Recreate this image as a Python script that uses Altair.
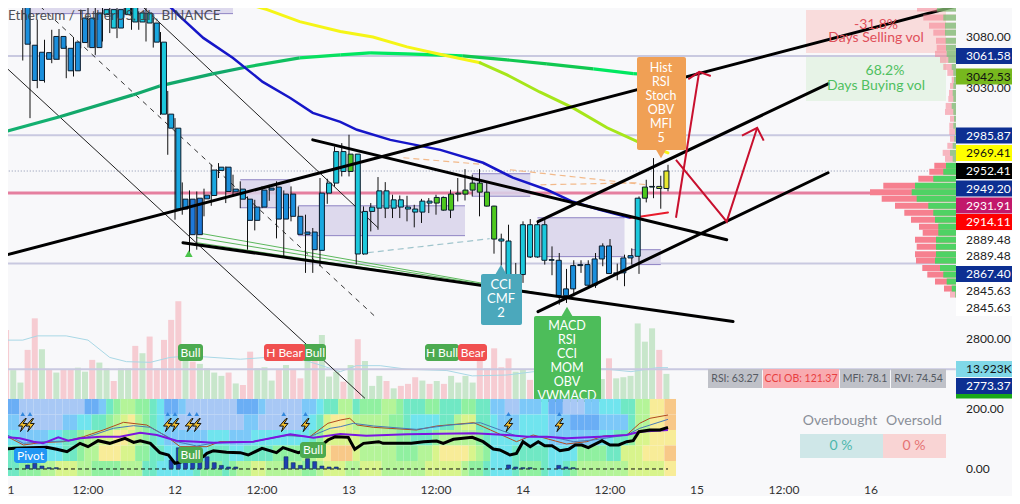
import altair as alt
import pandas as pd

FONT = "Lato"
BG = "#f8f8fa"
W, H = 1004, 488

# ---- candles: one entry per hour, h = 0 is the 11th 00:00
highs = [3125,3125,3130,3130,3075.6,3096.9,3077.3,3087,3087.7,3071.4,3079.9,3106.7,3113.2,3125,3125,3125,3125,3130,3130,3105,3125,3098.5,3084.8,3028,3002.1,2941.8,2934.4,2933.4,2936,2958.3,2959.8,2956.7,2949,2942.8,2928.8,2925.7,2938.1,2939.6,2942.8,2934.4,2938.1,2919.6,2912,2899.8,2945.9,2945.2,2975.3,
 2978.5,2986.4,2968.2,2919.6,2922.7,2946.8,2942.1,2930.4,2929.7,2929.4,2921.1,2926.6,2927.3,2930.4,2928.8,2935,2945.9,2954.2,2949,2954.2,2941.2,2920.2,2894.6,2902.8,2868,2905.9,2908,2905.9,2908,2883,2877,2862.6,2870.4,2870.4,2870.4,2877,2885.8,2889.7,2867.4,2875.5,2881.2,2928.8,2944.3,2964.5,2948,2958.2]
lows = [3085.4,3108.3,3115,3057.2,3002.1,3030.6,3036,3054.6,3057.8,3040.2,3041.8,3069,3069.7,3062.6,3075.6,3083.8,3078.9,3101.8,3087,3087,3075.6,3069.7,3005.2,2967.6,2907.4,2912,2877,2880,2910.5,2920.2,2945.9,2922.7,2928.8,2918,2880,2897.6,2918,2924.8,2890.3,2874,2905.9,2893.4,2859,2859,2865,2922,2938,
 2947.4,2947.4,2866.5,2875.5,2896.7,2898.2,2908.9,2908.9,2908.9,2905.9,2900.4,2904.4,2913.5,2912,2915.6,2908.9,2924.2,2925.1,2928.8,2910.5,2919.6,2876.4,2865.6,2850,2839.5,2850,2872.5,2872.8,2866.5,2856.9,2830.5,2832,2838,2859,2847,2845.5,2865,2858.1,2852.4,2847,2866.5,2858.1,2923.3,2927.2,2917.5,2933.5]
body_top = [3130,3115.5,3125,3125,3072,3065.2,3064.8,3080.5,3080.5,3069,3075,3098.5,3098.5,3103.4,3106.7,3106.7,3106.7,3125,3125,3103.4,3103.4,3093.6,3075,3005.9,2992.6,2926.3,2926.3,2927.2,2930,2953.3,2956,2956,2935.6,2935.6,2926.3,2919,2934.7,2936.5,2937.5,2931,2931,2910.5,2896.1,2896.1,2931.9,2941.2,2970.6,
 2970.6,2968.2,2968.2,2915,2919,2934,2934,2925.7,2925.7,2919,2917.2,2924.5,2924.5,2927.9,2927.9,2931,2931.9,2934.7,2941.2,2941.2,2932.8,2919.9,2889.7,2887.9,2857.5,2902.8,2902.8,2902.8,2902.8,2871,2870.4,2844.6,2865.6,2866.5,2866.5,2871.6,2883.4,2883.4,2859,2872.5,2874.6,2927.2,2937.5,2938.1,2938.1,2952.41]
body_bot = [3120,3112.2,3116,3073,3038,3038,3058.4,3058.4,3069,3047.3,3047.3,3074.6,3069.7,3069.7,3101.8,3088.7,3088.7,3101.8,3094.6,3094.6,3093.6,3075,3005.9,2992.6,2917.2,2917.2,2893.7,2893.7,2926.6,2929.7,2953,2933.4,2933.1,2926.3,2906.8,2906.8,2919,2934.7,2908,2908,2910.5,2894,2894,2880,2879.4,2931.9,2941.2,
 2952,2952,2876.1,2876.1,2915,2918,2918,2918,2919,2917.2,2914.4,2914.4,2922.7,2922.7,2916.2,2916.2,2931,2931,2934.7,2932.8,2919.9,2889.7,2887.9,2852.4,2850.6,2857.5,2873.4,2873.4,2870.4,2870.4,2838.6,2838.6,2844.6,2865.6,2847.9,2847.9,2871.6,2858.4,2858.4,2859,2872.5,2874,2927.2,2937.5,2936.2,2936.2]
candle_kind = "bcb" + "b"*11 + "ccmcccc" + "mcmmbddbmm" + "bbm" + "b"*10 + "mcc" + "cgccc" + "c"*8 + "ggg" + "g" + "ggggg" + "ccm" + "cccc" + "c" + "b"*11 + "cggly"
candle_palette = {"b": "#1b8fdc", "c": "#1cc8dc", "m": "#1aa8e0", "d": "#1e78d8", "g": "#4ec81e", "l": "#b8e030", "y": "#e8e830"}

# ---- volume (thousands) and its average
volumes = [31.1,13,7.4,22.1,36.3,22.4,13.4,11.9,13.4,13.4,14.1,12.3,17.6,16.4,13.8,8.1,13.8,13.8,23.9,20.6,28.1,13.8,26.6,35.6,44,18.3,16.8,15.8,13.8,11.9,10.4,11.9,7,6.3,21.3,13.8,14.3,8.3,13.4,15.3,13.1,9.3,17.1,18.3,28.8,10.1,12.3,
 7.8,15.3,26.9,17.1,5.9,10.4,8.1,4.8,5.9,6.8,9.8,8.3,6.8,8.1,6.8,10.4,7.4,10.4,7.4,17.6,13.8,22.8,14.3,18.3,12.3,13.1,8.6,9,9,9,9,9,9,9,9,9,9,18.3,9.3,9.8,10.4,34,25.8,31.8,22.1,11.3]
volume_side = "pggppgpgpp" "ggpggpggpg" "pppppgpggg" "gpgppgggpg" "ppgpggg" "pgpgggpgpp" "pgpgpggggp" "ppppggpgpg" "pgggpggpgg" "ggggpg"
vol_ma_h = [0,3,5,9,12,15,17.3,20.6,23.3,26,33,36.6,41,44,46.8,49,52.3,56,61.5,65,69.8,73.5,79,83.6,86.9,90.5,92]
vol_ma_v = [26.5,26.5,28.4,28.4,26.5,18.7,16.8,16.5,18.7,19.4,17.9,18.7,18.3,15.3,12.3,15,15,13.4,12.8,10.4,10.8,12.3,13.8,13.4,12.3,14.1,14.1]

# ---- moving averages
blue_h = [22.3,24.7,27.9,32,36.1,39.9,43,46.8,49.1,53.7,60.6,66.5,70.6,75.3,78.9,82.6,86.8]
blue_p = [3116.5,3099.9,3079.1,3059.7,3036.6,3021.3,3007.1,2998.6,2991.1,2981.6,2972.2,2960.1,2946.2,2935,2923.9,2916.6,2909.2]
red_h = [86.8,88.1,92]
red_p = [2909.2,2910.1,2914.11]
yellow_h = [32,36.7,41.2,46.8,51.3,56,61,66.1]
yellow_p = [3116.5,3106.7,3095,3085.4,3080,3070.4,3062.6,3055]
lime_h = [66.1,69.8,74.3,78.9,83.6,88.1,90.2]
lime_p = [3055,3043.4,3027,3011.8,2993,2979,2974]
yellow_end_h = [90.2,92]
yellow_end_p = [2974,2969.41]
slow_h = [0,8.1,18.2,21.9,29.2,33.9,41.2,46.8,50.9,56,63.7,69.8,75.3,81.7,87.2,92]
slow_p = [2988.2,3003.4,3024.2,3032.8,3044.3,3051,3059.7,3062.6,3064.5,3063.6,3061.6,3057.8,3054,3049.2,3044.5,3042.53]
slow_c = ["#13b070","#12a86a","#12a86a","#12a86a","#12a86a","#10c060","#08e060","#00e860","#00e860","#00e860","#10c850","#10c850","#10c850","#00e860","#00e860","#00e860"]

# ---- drawn lines: (h1, p1, h2, p2)
thick_lines = [(-0.14,2873.7,131.7,3110.1),(25.1,2886.4,100.97,2815.5),(43,2981.6,100.1,2889.1),(74.07,2824.3,114.07,2950.8),(74.07,2905.6,114.07,3034.8)]
thin_lines = [(-0.14,3055.9,50.2,2748),(18.5,3116.5,52,2900.1)]
dash_lines = [(4.4,3116.5,51.6,2819.9)]
green_lines = [(27,2895.5,76.8,2837.7),(27,2891,76.8,2837.7),(27,2886.4,76.8,2837.7)]
teal_dash = [(50.6,2877.3,67.4,2890)]
orange_dash = [(55.5,2964.8,67,2958.3),(70.2,2953.6,89,2939.6),(74.4,2939.6,88.1,2941.5)]
arrow_segments = [[(93.1,2909.2),(96.3,3046.3)],[(94.8,3039.2),(96.3,3046.3),(97.9,3042.3)],[(93.1,2962.9),(100.1,2905.6),(104.3,2993)],[(102.2,2985.6),(104.3,2993),(105.2,2980.9)]]

# ---- price levels
lavender_levels = [3061.58,2985.87,2867.40,2773.37]
pink_level = 2931.91
dotted_level = 2952.41
zones = [(3,32,3130,3102.8),(33,39.9,2944.3,2918.4),(41,64,2920.2,2892.8),(65,73,2949.9,2929),(74,86,2909.2,2873.7),(87,91,2880,2866.5)]

# ---- volume profile: price, selling+buying width, buying width
pf_price = [3114.5,3107.7,3098.9,3091,3084.2,3076.3,3069.5,3063.6,3057.8,3051,3045.3,3038.6,3032.8,3026.1,3020.4,3013.7,3008,3001.5,2994.9,2989.2,2982.6,2976,2969.4,2963.8,2957.3,2951.7,2945.2,2938.7,2932.7,2926.6,2920.2,2913.8,2907.4,2901,2895.5,2889.1,2882.7,2875.8,2870.1,2863.4,2857.5,2851.2,2844.9,2839.5]
pf_total = [27.7,39,32.7,27,22.7,20,19.3,21,16,12.7,8.7,4.3,6,7,7.7,10.3,11,6,6.7,6.7,6,8.7,13.3,11,21.7,26.7,37.7,72.7,86,74.3,61,51.7,45,37,33.3,41,39.3,41,40,33.7,28.7,21,12,6]
pf_buy = [11,19,12.7,11,11,10.3,10,9.3,7.7,4.3,2.7,2,2.7,3.3,2.7,4.3,2.7,2,2.7,1,1.7,3.3,6,3.3,10,12.7,22.7,41,44.3,39.3,27.7,22.7,21,17.7,17.7,20,20,20,21,16,12.7,9.3,4.3,1]

# ---- oscillator pane
black_h = [0,1.9,6.3,7.7,9.1,10.9,12,13.4,15,17.1,18.3,19.2,20.6,21.9,23.1,24,26,27.9,28.4,29.3,31.1,33,34.1,36,38,38.9,41,42.2,44,45.1,46.1,47.9,48.8,50,52.1,52.7,56.6,58.3,60.1,61,62.4,65,66.5,67.9,68.8,70.2,71.1,72,73,74.1,75,76,77.1,78.3,79.2,80.1,81,82.9,84,85.2,86.3,87.2,88,89.5,90.9,92]
black_v = [64.8,68.1,71.5,64.8,57,84.9,73.7,93.8,84.9,101.6,88.2,93.8,84.9,53.6,45.8,17.9,29,40.2,51.4,60.3,54.7,53.6,45.8,68.1,53.6,70.4,53.6,62.5,73.7,96.1,107.2,105,64.8,84.9,90.5,84.9,84.9,90.5,92.7,84.9,98.3,105,90.5,65.9,62.5,45.8,51.4,90.5,73.7,90.5,77.1,77.1,60.3,64.8,79.3,79.3,70.4,93.8,79.3,79.3,90.5,93.8,124,129.6,129.6,138.5]
purple_h = [0,2.6,4.5,5.8,7.9,9.3,10.9,13.7,16.4,19.2,21.5,24.2,27,29.3,34.8,39.9,43.1,46.8,50.4,56,65.2,69.8,72.5,75.3,78,82.6,86.3,88.1,92]
purple_v = [107.2,101.6,90.5,84.9,105,93.8,101.6,107.2,107.2,120.6,112.8,93.8,90.5,87,90.5,115,103.9,116.2,110.6,115,118.4,112.8,107.2,107.2,101.6,107.2,112.8,124,129.6]
brown_h = [0,3.1,5.4,8.6,11.4,14.1,16.9,20.1,22.9,24.7,28.4,30.2,34.8,39.4,42.6,45.1,46.8,48.1,49.1,51.4,57.3,60.1,65.2,66.5,71.1,73.4,78,80.8,83.1,86.3,88.1,89.5,92]
brown_v = [118.4,79.3,87.1,90.5,107.2,129.6,155.3,146.3,107.2,73.7,73.7,90.5,90.5,112.8,107.2,152,163,168.7,146.3,138.5,129.6,143,154.1,140.7,90.5,112.8,82.7,90.5,109.5,112.8,152,168.7,179.8]
steel_h = [0,3.1,5.8,9.1,11.8,15.5,18.3,20.6,24.2,27,29.7,34.8,39.4,42.6,45.4,46.8,48.6,51.4,57.3,62,66.1,71.1,76.2,79,81.7,86.3,88.1,92]
steel_v = [124,84.9,90.5,92.7,105,135.2,144.1,138.5,90.5,76,87.1,90.5,110.6,107.2,135.2,140.7,151.9,143,131.8,146.3,154.1,109.5,105,90.5,96.1,112.8,135.2,165.3]
momentum_h = [3,4,5,6,7,23,24,25,26,27,28,29,30,31,32,39,40,41,42,43,44,45,46,70,71,72,73,77,78,79]
momentum_v = [12.3,17.9,8.9,3.4,3.4,29,70,53.6,31.3,31.3,40,20,11,5.6,5.6,40,20,11,33.5,23.5,8.9,5.6,5.6,12.3,5.6,3.4,3.4,11,5.6,3.4]
bolt_h = [3,4,23,24,26,27,39,42,70,77]
bolt_level = 146
arrow_level = 183
BOLT = "M0.35,-1 L-0.65,0.15 L-0.05,0.15 L-0.35,1 L0.65,-0.25 L0.05,-0.25 L0.55,-1 Z"

# ---- heat cells: one string per row, one letter per hour
heat_rows = [
 "caabbbbbbbbbaacefggffedaacbbbbbb" "baaacbbbbbccdeeggefffggfeeeffee" "effeeccbbcccdaabbbccdddeeggiij",
 "dccbbbbbbccddeefghigfedccbbbbbbb" "bbccbbbbbbcdehiihgggggffeddddee" "ghheedcccddddcccaaaaccccegg" "iij",
 "dddccccddeefgghhiihgfedccccccddd" "cccddddddddefhhhhhgggggffeeefgg" "gggfeddddddddcccccccddeefhhiii",
 "eeeedddddeefggiiihhffeeddddddeee" "ddeeeeffffgghijjjhgggggfffgghii" "iihgfdddeeeeeddddffffeehhhiiij",
 "deefffgghhhggffffgggeedddddefffe" "fgghhgggggffghhhgghhhgggggghhhh" "hgffedddefffeddefggggggghhhhhi",
]
heat_edges = [233.5,181.6,129.6,77.7,25.8,-24.5]
heat_palette = {"a":"#6aaef5","b":"#a8c8f5","c":"#7cc8f8","d":"#70e4ee","e":"#70e8c4","f":"#90f0a0","g":"#b4f498","h":"#d8f48c","i":"#f8ec98","j":"#f8c888"}

# ---- text
time_labels = [(11,"1"),(88,"12:00"),(175,"12"),(262,"12:00"),(349,"13"),(436,"12:00"),(523,"14"),(610,"12:00"),(697,"15"),(784,"12:00"),(871,"16")]
axis_plain = [("3080.00",36.7),("3030.00",88.3),("2889.48",239.5),("2889.48",256.3),("2845.63",290.7),("2845.63",307.7),("2800.00",339.3),("200.00",409.3),("0.00",468.7)]
axis_tags = [("3061.58",56,"#0d2f92","#ffffff"),("3042.53",76.5,"#77b81e","#111111"),("2985.87",135.5,"#0d2f92","#ffffff"),("2969.41",153,"#ffff00","#111111"),("2952.41",171,"#000000","#ffffff"),("2949.20",188.5,"#0d2f92","#ffffff"),("2931.91",205.5,"#c2186b","#ffffff"),("2914.11",222,"#ff0000","#ffffff"),("2867.40",274,"#0d2f92","#ffffff"),("13.923K",369,"#80d8e8","#111111"),("2773.37",386,"#0d2f92","#ffffff")]

xs = alt.Scale(domain=[7/7.25, 1011/7.25], nice=False, zero=False)
ys = alt.Scale(type="log", domain=[2664.6, 3108.3], nice=False, zero=False)
os_ = alt.Scale(domain=[-91.5, 1543], nice=False, zero=False)
vs = alt.Scale(domain=[-43.65, 175.95], nice=False, zero=False)
pf = alt.Scale(domain=[948, -56], nice=False, zero=False)
sx = alt.Scale(domain=[8, 1012], nice=False, zero=False)
sy = alt.Scale(domain=[496, 8], nice=False, zero=False)
c_id = alt.Color("c:N", scale=None)

def X(f="h"): return alt.X(f"{f}:Q", scale=xs, axis=None)
def P(f="p"): return alt.Y(f"{f}:Q", scale=ys, axis=None)
def O(f="v"): return alt.Y(f"{f}:Q", scale=os_, axis=None, stack=None)
def V(f="v"): return alt.Y(f"{f}:Q", scale=vs, axis=None, stack=None)
def SX(f="x"): return alt.X(f"{f}:Q", scale=sx, axis=None)
def SY(f="y"): return alt.Y(f"{f}:Q", scale=sy, axis=None)

layers = []

def price_line(h, p, color, width, **kw):
    d = pd.DataFrame({"h": h, "p": p})
    layers.append(alt.Chart(d).mark_line(color=color, strokeWidth=width, strokeCap="round", clip=True, **kw).encode(x=X(), y=P()))

def seg_rules(segs, color, width, **kw):
    d = pd.DataFrame(segs, columns=["h", "p", "h2", "p2"])
    layers.append(alt.Chart(d).mark_rule(color=color, strokeWidth=width, clip=True, **kw).encode(x=X(), x2="h2:Q", y=P(), y2="p2:Q"))

def osc_line(h, v, color, width, **kw):
    d = pd.DataFrame({"h": h, "v": v})
    layers.append(alt.Chart(d).mark_line(color=color, strokeWidth=width, clip=True, **kw).encode(x=X(), y=O()))

def boxes(rows, **kw):
    d = pd.DataFrame(rows, columns=["x", "x2", "y", "y2", "c"])
    layers.append(alt.Chart(d).mark_rect(clip=True, **kw).encode(x=SX(), x2="x2:Q", y=SY(), y2="y2:Q", color=c_id))

def texts(rows, align="center", **kw):
    d = pd.DataFrame(rows, columns=["x", "y", "t", "c", "s"])
    layers.append(alt.Chart(d).mark_text(align=align, baseline="middle", font=FONT, **kw).encode(
        x=SX(), y=SY(), text="t:N", color=c_id, size=alt.Size("s:Q", scale=None)))

def pointer(x, y, color, shape, size):
    d = pd.DataFrame({"x": [x], "y": [y]})
    layers.append(alt.Chart(d).mark_point(shape=shape, filled=True, color=color, size=size, opacity=1).encode(x=SX(), y=SY()))

# volume
hours = list(range(93))
vdf = pd.DataFrame({"h": hours, "v": volumes, "z": [0]*93, "c": ["#f6ccd2" if s == "p" else "#c8e6cb" for s in volume_side]})
layers.append(alt.Chart(vdf).mark_bar(size=6, clip=True).encode(x=X(), y=V(), y2="z:Q", color=c_id))
layers.append(alt.Chart(pd.DataFrame({"h": vol_ma_h, "v": vol_ma_v})).mark_line(color="#a9d8e6", strokeWidth=1, clip=True).encode(x=X(), y=V()))

# levels
lev = pd.DataFrame({"p": lavender_levels, "h": [-1]*4, "h2": [131.7]*4})
layers.append(alt.Chart(lev).mark_rule(color="#c9c9e0", strokeWidth=2, clip=True).encode(x=X(), x2="h2:Q", y=P()))
layers.append(alt.Chart(pd.DataFrame({"p": [dotted_level], "h": [-1], "h2": [131.7]})).mark_rule(color="#8a94b0", strokeWidth=1, strokeDash=[1, 2], clip=True).encode(x=X(), x2="h2:Q", y=P()))
layers.append(alt.Chart(pd.DataFrame({"p": [pink_level], "h": [-1], "h2": [131.7]})).mark_rule(color="#e57f9f", strokeWidth=3, clip=True).encode(x=X(), x2="h2:Q", y=P()))

# zones
zdf = pd.DataFrame(zones, columns=["h", "h2", "p", "p2"])
layers.append(alt.Chart(zdf).mark_rect(color="#d8d3ea", opacity=0.85, clip=True).encode(x=X(), x2="h2:Q", y=P(), y2="p2:Q"))
for col in ["p", "p2"]:
    layers.append(alt.Chart(zdf).mark_rule(color="#8f84c4", strokeWidth=1, clip=True).encode(x=X(), x2="h2:Q", y=P(col)))

# thin lines
seg_rules(thin_lines, "#222222", 1)
seg_rules(dash_lines, "#333333", 1, strokeDash=[5, 5])
seg_rules(green_lines, "#5cb85c", 1)
seg_rules(teal_dash, "#9fc4cc", 1.2, strokeDash=[6, 4])
seg_rules(orange_dash, "#f2b98a", 1.2, strokeDash=[6, 4])

# days boxes
boxes([(806, 946, 10, 53, "#f9dcdc"), (806, 946, 57, 101, "#e7f3e7")])

# moving averages
slow = pd.DataFrame({"h": slow_h, "p": slow_p, "c": slow_c})
for i in range(len(slow) - 1):
    layers.append(alt.Chart(slow.iloc[i:i+2]).mark_line(color=slow_c[i], strokeWidth=3.2, clip=True).encode(x=X(), y=P()))
price_line(yellow_h, yellow_p, "#f5f516", 3)
price_line(lime_h, lime_p, "#a6e61a", 3)
price_line(yellow_end_h, yellow_end_p, "#f5f516", 3)
price_line(blue_h, blue_p, "#1616c8", 2.5)
price_line(red_h, red_p, "#e81c2c", 2)

# candles
kinds = [candle_palette[k] for k in candle_kind]
cdf = pd.DataFrame({"h": hours, "hi": highs, "lo": lows, "t": body_top, "b": body_bot, "c": kinds})
layers.append(alt.Chart(cdf).mark_rule(color="#111111", strokeWidth=1, clip=True).encode(x=X(), y=P("hi"), y2="lo:Q"))
layers.append(alt.Chart(cdf).mark_bar(size=5, stroke="#0b1b2b", strokeWidth=1, clip=True).encode(x=X(), y=P("t"), y2="b:Q", color=c_id))

# heavy lines and arrows
seg_rules(thick_lines, "#000000", 3, strokeCap="round")
arrow_rows = [(i, hh, pp) for i, seg in enumerate(arrow_segments) for hh, pp in seg]
adf = pd.DataFrame(arrow_rows, columns=["g", "h", "p"])
layers.append(alt.Chart(adf).mark_line(color="#c8102e", strokeWidth=2, clip=True).encode(x=X(), y=P(), detail="g:N"))

# title, days text
texts([(8, 16, "Ethereum / TetherUS, 1h, BINANCE", "#3c4048", 13.5)], align="left", opacity=0.9)
texts([(876, 25, "-31.8%", "#e0505a", 14), (876, 38, "Days Selling vol", "#e0505a", 14),
       (885, 71, "68.2%", "#4fc060", 14), (876, 86, "Days Buying vol", "#4fc060", 14)])

# small marks in the price pane
layers.append(alt.Chart(pd.DataFrame({"h": [25.9], "p": [2876.4]})).mark_point(shape="triangle-up", filled=True, color="#4cc44c", size=60, opacity=1).encode(x=X(), y=P()))

# signal badges
boxes([(481, 522, 274, 325, "#4ba8bc")], cornerRadius=2)
pointer(501, 270, "#4ba8bc", "triangle-up", 150)
boxes([(534, 601, 316, 402, "#4dbd5a")], cornerRadius=2)
pointer(567, 312, "#4dbd5a", "triangle-up", 150)
boxes([(637, 686, 57, 150, "#f0a055")], cornerRadius=2)
pointer(661, 153, "#f0a055", "triangle-down", 150)
texts([(501, 285, "CCI", "#ffffff", 13), (501, 299, "CMF", "#ffffff", 13), (501, 313, "2", "#ffffff", 13),
       (567, 326, "MACD", "#ffffff", 12.5), (567, 340, "RSI", "#ffffff", 12.5), (567, 354, "CCI", "#ffffff", 12.5), (567, 368, "MOM", "#ffffff", 12.5), (567, 382, "OBV", "#ffffff", 12.5), (567, 396, "VWMACD", "#ffffff", 12.5),
       (661, 68, "Hist", "#ffffff", 12.5), (661, 82, "RSI", "#ffffff", 12.5), (661, 96, "Stoch", "#ffffff", 12.5), (661, 110, "OBV", "#ffffff", 12.5), (661, 124, "MFI", "#ffffff", 12.5), (661, 138, "5", "#ffffff", 12.5)])
boxes([(178, 203, 344, 361, "#4caa50"), (302, 326, 344, 361, "#4caa50"), (264, 305, 344, 361, "#f05050"),
       (425, 459, 344, 361, "#4caa50"), (458, 487, 344, 361, "#f05050")], cornerRadius=3)
texts([(190.5, 352.5, "Bull", "#ffffff", 12), (315, 352.5, "Bull", "#ffffff", 12), (284.5, 352.5, "H Bear", "#ffffff", 12), (442, 352.5, "H Bull", "#ffffff", 12), (473, 352.5, "Bear", "#ffffff", 12)])

# heat map
cells = []
for r, row in enumerate(heat_rows):
    for i, ch in enumerate(row):
        cells.append({"h": i - 0.5, "h2": (i + 0.5) if i < 92 else 93.1, "v": heat_edges[r], "v2": heat_edges[r+1], "c": heat_palette[ch]})
layers.append(alt.Chart(pd.DataFrame(cells)).mark_rect(clip=True).encode(x=X(), x2="h2:Q", y=O(), y2="v2:Q", color=c_id))

# oscillator lines
layers.append(alt.Chart(pd.DataFrame({"h": [0], "h2": [92], "v": [-1]})).mark_rule(color="#111111", strokeWidth=1, strokeDash=[4, 3], clip=True).encode(x=X(), x2="h2:Q", y=O()))
mdf = pd.DataFrame({"h": momentum_h, "v": momentum_v, "z": [0]*len(momentum_h)})
layers.append(alt.Chart(mdf).mark_bar(size=4, color="#1f3fb0", stroke="#14305a", strokeWidth=0.6, clip=True).encode(x=X(), y=O(), y2="z:Q"))
osc_line(brown_h, brown_v, "#b04a20", 1)
osc_line(steel_h, steel_v, "#4a7ab8", 1)
osc_line(purple_h, purple_v, "#7a16e0", 2)
osc_line(black_h, black_v, "#000000", 3)

# bolts
bdf = pd.DataFrame({"h": bolt_h, "v": [bolt_level]*len(bolt_h), "a": [arrow_level]*len(bolt_h)})
layers.append(alt.Chart(bdf).mark_point(shape="triangle-up", filled=True, color="#3388dd", size=22, opacity=1).encode(x=X(), y=O("a")))
layers.append(alt.Chart(bdf).mark_point(shape=BOLT, filled=True, fill="#f7c331", stroke="#111111", strokeWidth=1, size=169, opacity=1).encode(x=X(), y=O()))

# oscillator badges
boxes([(14, 47, 448, 463, "#2196f3"), (178, 203, 447, 463, "#4caa50"), (300, 326, 442, 458, "#4caa50")], cornerRadius=3)
texts([(30.5, 455.5, "Pivot", "#ffffff", 12), (190.5, 455, "Bull", "#ffffff", 12), (313, 450, "Bull", "#ffffff", 12)])

# stats table
boxes([(708, 762, 369, 388, "#bfc1c8"), (763, 839, 369, 388, "#f9abb0"), (840, 890, 369, 388, "#bfc1c8"), (891, 946, 369, 388, "#bfc1c8")])
texts([(735, 379, "RSI: 63.27", "#555a62", 10.5), (801, 379, "CCI OB: 121.37", "#e84040", 10.5), (865, 379, "MFI: 78.1", "#555a62", 10.5), (918.5, 379, "RVI: 74.54", "#555a62", 10.5)])
boxes([(800, 883, 434, 458, "#cfe7e8"), (883, 946, 434, 458, "#f9d4d4")])
texts([(840, 421, "Overbought", "#8a8f98", 14), (914, 421, "Oversold", "#8a8f98", 14),
       (841, 446, "0 %", "#4db6ac", 14), (914, 446, "0 %", "#e57373", 14)])

# volume profile
pfdf = pd.DataFrame({"p": pf_price, "t": pf_total, "b": pf_buy, "z": [0]*len(pf_price),
                     "o": [0.55 if i < 24 or i == len(pf_price)-1 else 1 for i in range(len(pf_price))]})
layers.append(alt.Chart(pfdf).mark_rule(color="#f6808f", strokeWidth=6, clip=True).encode(x=alt.X("t:Q", scale=pf, axis=None), x2="z:Q", y=P(), opacity=alt.Opacity("o:Q", scale=None)))
layers.append(alt.Chart(pfdf).mark_rule(color="#4fd264", strokeWidth=6, clip=True).encode(x=alt.X("b:Q", scale=pf, axis=None), x2="z:Q", y=P(), opacity=alt.Opacity("o:Q", scale=None)))

# right axis
boxes([(956, 1012, 231, 316, "#ffffff")])
tag_rows = [(956, 1012, y - 8, y + 8, bg) for _, y, bg, _ in axis_tags] + [(956, 1012, 394, 398.5, "#1aa81a")]
boxes(tag_rows)
texts([(966, y, t, "#222222", 12) for t, y in axis_plain], align="left")
texts([(966, y, t, fg, 12) for t, y, _, fg in axis_tags], align="left")

# time labels
texts([(x, 490, t, "#333333", 12) for x, t in time_labels])

chart = alt.layer(*layers).resolve_scale(x="independent", y="independent").properties(
    width=W, height=H, padding=0, background=BG, autosize=alt.AutoSizeParams(type="none")
).configure_view(stroke=None, fill=BG)

chart.save("out.html", embed_options={"renderer": "svg", "actions": False})
